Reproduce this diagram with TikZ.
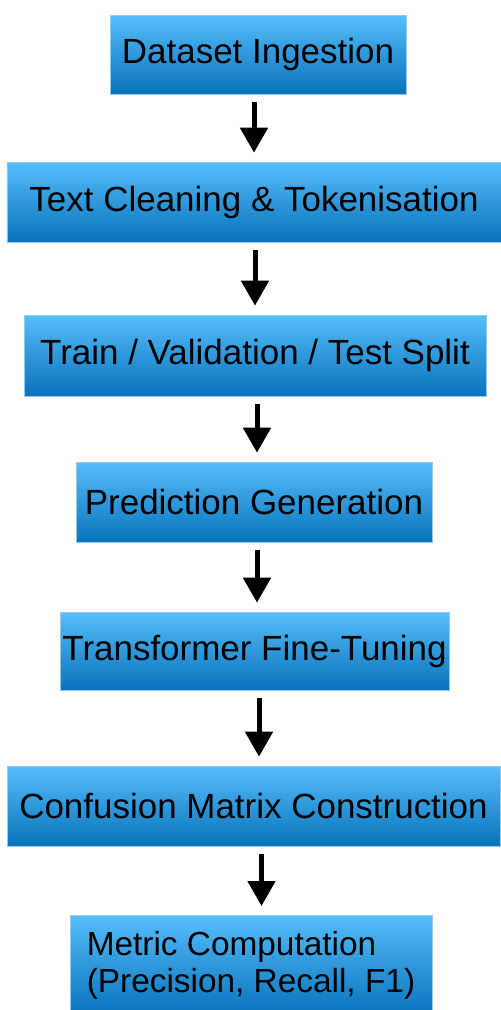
\documentclass[tikz,border=0pt]{standalone}
\usepackage{fontspec}
\setmainfont{Liberation Sans}
\usetikzlibrary{arrows.meta}

\definecolor{boxtop}{RGB}{86,190,250}
\definecolor{boxmid}{RGB}{40,156,226}
\definecolor{boxbot}{RGB}{8,114,188}
\definecolor{boxedge}{RGB}{150,200,232}

\tikzset{
  stage/.style={rectangle, top color=boxtop, middle color=boxmid, bottom color=boxbot,
    draw=boxedge, line width=0.4pt, inner sep=0pt, text=black,
    font=\fontsize{19.9pt}{21.6pt}\selectfont},
  flow/.style={line width=0.1cm, -{Triangle[width=0.54cm,length=0.5cm]},
    shorten <=0.16cm, shorten >=0.18cm}
}

\begin{document}
\begin{tikzpicture}
    \useasboundingbox (0,0) rectangle (10.02,-20.2);

    \node (ingest) [stage, minimum width=5.92cm, minimum height=1.58cm] at (5.16,-1.09) {Dataset Ingestion};
    \node (clean) [stage, minimum width=9.88cm, minimum height=1.60cm] at (5.08,-4.04) {Text Cleaning \& Tokenisation};
    \node (split) [stage, minimum width=9.24cm, minimum height=1.62cm] at (5.10,-7.11) {Train / Validation / Test Split};
    \node (predict) [stage, minimum width=7.12cm, minimum height=1.60cm] at (5.08,-10.04) {Prediction Generation};
    \node (tune) [stage, minimum width=7.78cm, minimum height=1.56cm] at (5.09,-13.02) {Transformer Fine-Tuning};
    \node (confuse) [stage, minimum width=9.86cm, minimum height=1.60cm] at (5.07,-16.12) {Confusion Matrix Construction};
    \node (metric) [stage, font=\fontsize{19pt}{21.6pt}\selectfont, anchor=north, align=left,
      minimum width=7.24cm, minimum height=2.0cm] at (5.02,-18.30) {Metric Computation\\(Precision, Recall, F1)};

    \draw[flow] (ingest.south -| clean.north) -- (clean.north);
    \draw[flow] (clean.south -| split.north) -- (split.north);
    \draw[flow] ([xshift=0.06cm]split.south -| predict.north) -- ([xshift=0.06cm]predict.north);
    \draw[flow] ([xshift=0.05cm]predict.south -| tune.north) -- ([xshift=0.05cm]tune.north);
    \draw[flow] ([xshift=0.11cm]tune.south -| confuse.north) -- ([xshift=0.11cm]confuse.north);
    \draw[flow] ([xshift=0.21cm]confuse.south -| metric.north) -- ([xshift=0.21cm]metric.north);
\end{tikzpicture}
\end{document}
